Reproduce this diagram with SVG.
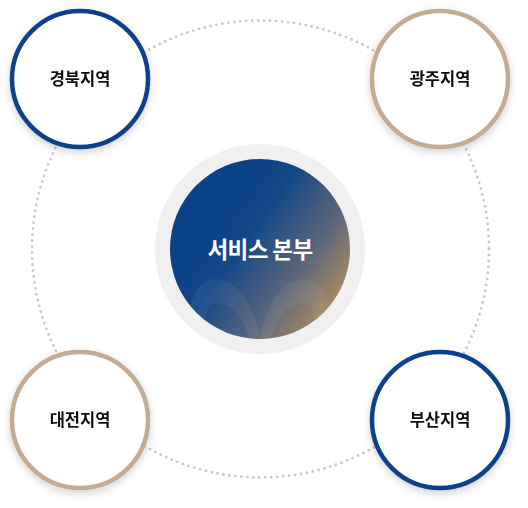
<svg xmlns="http://www.w3.org/2000/svg" width="528" height="508" viewBox="0 0 528 508">
<style>
.node{fill:#fff;stroke-width:4.5}
.blue{stroke:#0b438a}
.tan{stroke:#c3ab96}
.lbl{font-family:"Noto Sans CJK KR","Noto Sans",sans-serif;font-size:16.5px;font-weight:700;fill:#111;text-anchor:middle}
.center{font-family:"Noto Sans CJK KR","Noto Sans",sans-serif;font-size:22.5px;font-weight:700;fill:#fff;text-anchor:middle;letter-spacing:-0.6px}
</style>
<defs>
<linearGradient id="g" x1="0.3" y1="0.25" x2="1" y2="0.75">
<stop offset="0" stop-color="#0a4187"/>
<stop offset="0.25" stop-color="#134886"/>
<stop offset="0.65" stop-color="#5c6779"/>
<stop offset="1" stop-color="#b48d60"/>
</linearGradient>
<filter id="sh" x="-20%" y="-20%" width="140%" height="140%">
<feDropShadow dx="0" dy="3" stdDeviation="4" flood-color="#000" flood-opacity="0.18"/>
</filter>
<clipPath id="cc"><circle cx="260" cy="249" r="90"/></clipPath>
</defs>
<g id="connectors">
<circle cx="260.5" cy="249" r="228.5" fill="none" stroke="#c8c8c8" stroke-width="2.8" stroke-linecap="round" stroke-dasharray="0 6"/>
</g>
<g id="center-node">
<circle cx="260" cy="249" r="105" fill="#f0f0f0"/>
<circle cx="260" cy="249" r="90" fill="url(#g)"/>
<g clip-path="url(#cc)" fill="#fff" opacity="0.06">
<path d="M186,345 C186,305 196,280 214,279 C238,279 256,305 261,345 L250,345 C246,318 232,303 214,303 C206,303 204,320 204,345 Z"/>
<path d="M334,345 C334,305 324,280 306,279 C282,279 264,305 259,345 L270,345 C274,318 288,303 306,303 C314,303 316,320 316,345 Z"/>
</g>
<text class="center" x="260" y="258">서비스 본부</text>
</g>
<g id="node-gyeongbuk" filter="url(#sh)">
<circle class="node blue" cx="80" cy="79" r="68"/>
<text class="lbl" x="80" y="85">경북지역</text>
</g>
<g id="node-gwangju" filter="url(#sh)">
<circle class="node tan" cx="440" cy="79" r="68"/>
<text class="lbl" x="440" y="85">광주지역</text>
</g>
<g id="node-daejeon" filter="url(#sh)">
<circle class="node tan" cx="80" cy="420" r="68"/>
<text class="lbl" x="80" y="426">대전지역</text>
</g>
<g id="node-busan" filter="url(#sh)">
<circle class="node blue" cx="440" cy="420" r="68"/>
<text class="lbl" x="440" y="426">부산지역</text>
</g>
</svg>
